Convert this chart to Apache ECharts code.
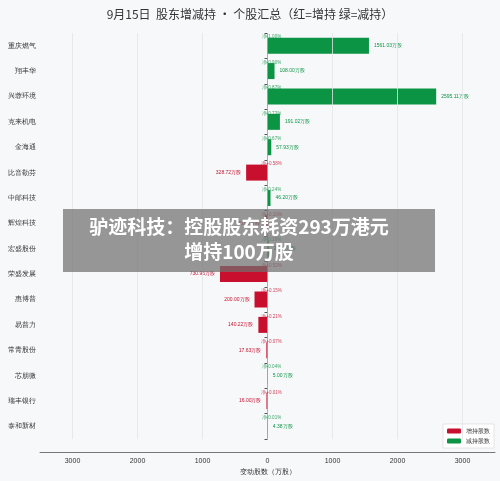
<!DOCTYPE html>
<html><head><meta charset="utf-8">
<script src="https://cdn.jsdelivr.net/npm/echarts@6/dist/echarts.min.js"></script>
<style>html,body{margin:0;padding:0;background:#f7f8fa}#c{width:500px;height:481px}</style>
</head><body><div id="c"></div>
<script>
const categories = ['重庆燃气','翔丰华','兴蓉环境','克来机电','金海通','比音勒芬','中邮科技','辉煌科技','宏盛股份','荣盛发展','惠博普','易普力','常青股份','芯朋微','瑞丰银行','泰和新材'];
// positive = 减持 (green), negative = 增持 (red), unit 万股
const changes = [1561.03,108.00,2595.11,191.02,57.93,-328.72,46.20,-40,20,-730.96,-200.00,-140.22,-17.63,5.00,-16.00,4.38];
const pctLabels = ['净-1.00%','净-0.90%','净-0.87%','净-0.73%','净-0.67%','净+0.58%','净-0.24%','净+0.10%','净-0.16%','净+0.52%','净+0.15%','净+0.21%','净+0.07%','净-0.04%','净+0.01%','净-0.01%'];
const gridTicks = [-3000,-2000,-1000,1000,2000,3000];
const RED='#c8102e', GREEN='#0b9444';
const chart = echarts.init(document.getElementById('c'));
const inc = changes.map(v=>v<0?v:'-');
const dec = changes.map(v=>v>0?v:'-');
const lbl = (pos,color)=>({show:true,position:pos,fontSize:5,color:color,formatter:p=>Math.abs(p.value).toFixed(2)+'万股'});
chart.setOption({
  backgroundColor:'#f7f8fa',
  animation:false,
  title:{text:'9月15日  股东增减持 · 个股汇总（红=增持 绿=减持）',left:'center',top:3,textStyle:{fontSize:12,fontWeight:'normal',color:'#333',fontFamily:'Noto Sans CJK SC'}},
  legend:{right:6,bottom:33,orient:'vertical',itemWidth:14,itemHeight:5,itemGap:4,textStyle:{fontSize:6,color:'#333'},backgroundColor:'#fff',borderColor:'#ccc',borderWidth:0.5,padding:4,data:['增持股数','减持股数']},
  grid:{left:40,right:5,top:33,bottom:40},
  xAxis:{type:'value',min:-3500,max:3500,interval:500,offset:13,
    name:'变动股数（万股）',nameLocation:'middle',nameGap:7,nameTextStyle:{fontSize:7,color:'#333'},
    axisLine:{show:true,lineStyle:{color:'#777'}},axisTick:{show:false},
    axisLabel:{fontSize:7,color:'#333',margin:5,formatter:v=>(v%1000===0)?String(Math.abs(v)):''},
    splitLine:{show:false}},
  yAxis:{type:'category',data:categories,inverse:true,
    axisLine:{show:false},axisTick:{show:true,length:3,lineStyle:{color:'#555'}},
    axisLabel:{fontSize:7,color:'#333',margin:4}},
  series:[
    {name:'增持股数',type:'bar',stack:'s',data:inc,barWidth:16,itemStyle:{color:RED},label:lbl('left',RED),
     markLine:{silent:true,symbol:'none',label:{show:false},lineStyle:{color:'#e3e5e8',width:0.8,type:'solid'},data:gridTicks.map(v=>({xAxis:v}))}},
    {name:'减持股数',type:'bar',stack:'s',data:dec,barWidth:16,itemStyle:{color:GREEN},label:lbl('right',GREEN),
     markLine:{silent:true,symbol:'none',label:{show:false},lineStyle:{color:'#999',width:0.8,type:'solid'},data:[{xAxis:0}]}},
    {type:'scatter',symbolSize:0,data:categories.map((c,i)=>[0,i]),silent:true,z:5,
     label:{show:true,position:'top',distance:0,offset:[4,-6],fontSize:4.5,
       formatter:p=>pctLabels[p.dataIndex],
       rich:{}},
     itemStyle:{color:'transparent'},
     labelLayout:null,
     encode:{x:0,y:1}}
  ],
  graphic:[
    {type:'rect',shape:{x:63,y:209,width:372,height:63},style:{fill:'rgba(112,112,112,0.72)'},z:100},
    {type:'text',x:239,y:227,style:{text:'驴迹科技：控股股东耗资293万港元',fill:'#fff',font:'bold 19px "Noto Sans CJK SC"',textAlign:'center',textVerticalAlign:'middle'},z:101},
    {type:'text',x:239,y:252,style:{text:'增持100万股',fill:'#fff',font:'bold 19px "Noto Sans CJK SC"',textAlign:'center',textVerticalAlign:'middle'},z:101}
  ]
});
// color percent labels by sign
chart.setOption({series:[{},{},{label:{formatter:p=>'{'+(changes[p.dataIndex]<0?'r':'g')+'|'+pctLabels[p.dataIndex]+'}',rich:{r:{color:RED,fontSize:4.5},g:{color:GREEN,fontSize:4.5}}}}]});
</script></body></html>
